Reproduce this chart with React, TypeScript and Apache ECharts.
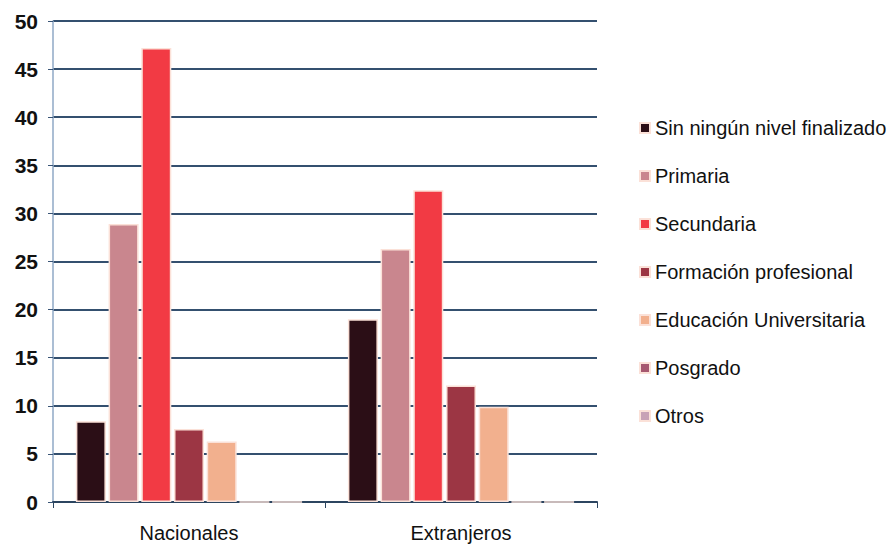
import React, { useEffect, useRef } from "react";
import * as echarts from "echarts";

const categories = ["Nacionales", "Extranjeros"];
const seriesNames = [
  "Sin ningún nivel finalizado",
  "Primaria",
  "Secundaria",
  "Formación profesional",
  "Educación Universitaria",
  "Posgrado",
  "Otros",
];
const sinNivel = [8.4, 19.0];
const primaria = [28.9, 26.3];
const secundaria = [47.2, 32.4];
const formacion = [7.6, 12.1];
const universitaria = [6.3, 9.9];
const posgrado = [0, 0];
const otros = [0, 0];
const yTicks = [0, 5, 10, 15, 20, 25, 30, 35, 40, 45, 50];

const seriesData = [sinNivel, primaria, secundaria, formacion, universitaria, posgrado, otros];
const colors = ["#2b0e16", "#c9868e", "#f23a44", "#9c3644", "#f2b08e", "#a65870", "#c8a2b6"];

const FONT = "'Liberation Sans', Arial, sans-serif";

export default function App() {
  const ref = useRef<HTMLDivElement>(null);
  useEffect(() => {
    if (!ref.current) return;
    const chart = echarts.init(ref.current, undefined, { renderer: "svg" });
    chart.setOption({
      animation: false,
      backgroundColor: "#ffffff",
      legend: {
        orient: "vertical",
        left: 634,
        top: 113,
        itemWidth: 10,
        itemHeight: 10,
        itemGap: 28,
        icon: "rect",
        data: seriesNames,
        textStyle: { fontFamily: FONT, fontSize: 20, color: "#111", lineHeight: 20 },
      },
      grid: { left: 53, right: 293, top: 21, bottom: 46, containLabel: false },
      xAxis: {
        type: "category",
        data: categories,
        axisLine: { lineStyle: { color: "#2c4560", width: 2 } },
        axisTick: { show: true, alignWithLabel: false, length: 6, lineStyle: { color: "#2c4560" } },
        axisLabel: { fontFamily: FONT, fontSize: 20, color: "#111", margin: 21 },
      },
      yAxis: {
        type: "value",
        min: yTicks[0],
        max: yTicks[yTicks.length - 1],
        interval: 5,
        axisLine: { show: true, lineStyle: { color: "#8fa9c6", width: 1.5 } },
        axisTick: { show: true, length: 5, lineStyle: { color: "#3a5577" } },
        axisLabel: { fontFamily: FONT, fontSize: 21, color: "#111", margin: 15, fontWeight: "bold" },
        splitLine: { lineStyle: { color: "#34506f", width: 2 } },
      },
      series: seriesNames.map((name, i) => ({
        name,
        type: "bar",
        data: seriesData[i],
        barWidth: 30,
        barGap: "9%",
        itemStyle: { color: colors[i], borderColor: "#fbe1d8", borderWidth: 1.5 },
      })),
    });
    return () => chart.dispose();
  }, []);
  return <div ref={ref} style={{ width: 890, height: 548, position: "absolute", left: 0, top: 0 }} />;
}
